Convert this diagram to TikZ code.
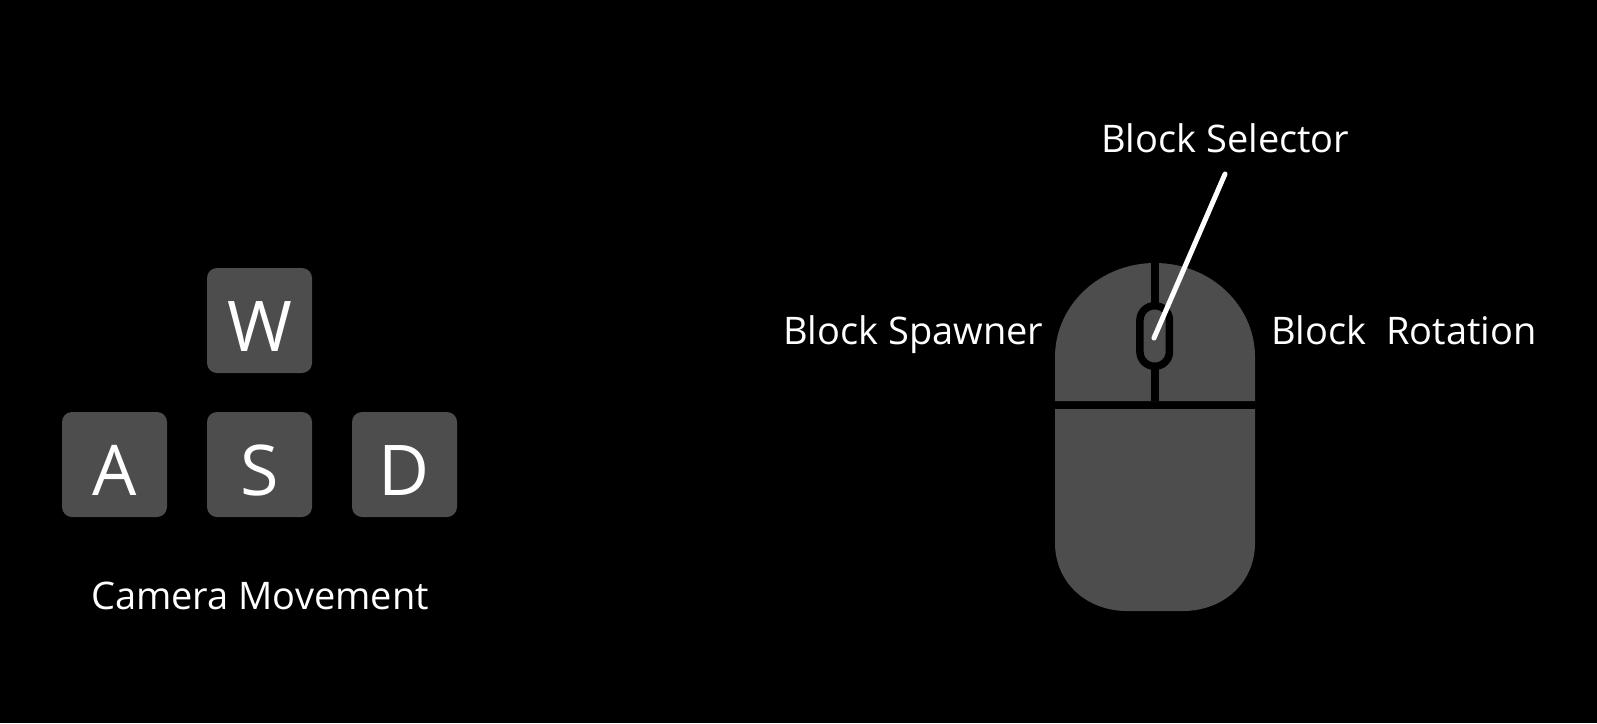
\documentclass[tikz,border=0pt]{standalone}
\usepackage{fontspec}
\setmainfont{Open Sans}
\definecolor{keygrey}{HTML}{4D4D4D}
\tikzset{
  keybox/.style={fill=keygrey,draw=none,rounded corners=10pt,minimum width=105pt,minimum height=105pt,inner sep=0pt,text=white,text height=63pt,text depth=2pt,font=\fontsize{70}{70}\selectfont},
  lab/.style={text=white,inner sep=0pt,anchor=base west,font=\fontsize{38}{38}\selectfont},
  gapline/.style={draw=black,line width=8pt},
  pointer/.style={draw=white,line width=5pt,line cap=round}
}
\begin{document}
\begin{tikzpicture}[x=1pt,y=-1pt]
\fill[black] (0,0) rectangle (1597,723);
\useasboundingbox (0,0) rectangle (1597,723);
% keys
\node[keybox] (w) at (259.5,320.5) {W};
\node[keybox] (a) at (114.5,464.5) {A};
\node[keybox] (s) at (259.5,464.5) {S};
\node[keybox] (d) at (404.5,464.5) {D};
\node[lab] (cam) at (91,609) {Camera Movement};
% mouse
\fill[keygrey] (1055,401) -- (1055,357) .. controls (1055,305) and (1100,263) .. (1155,263)
  .. controls (1210,263) and (1255,305) .. (1255,357) -- (1255,401) -- cycle;
\fill[keygrey] (1055,409) -- (1255,409) -- (1255,543)
  .. controls (1255,583) and (1223,611) .. (1183,611) -- (1127,611)
  .. controls (1087,611) and (1055,583) .. (1055,543) -- cycle;
\coordinate (slottop) at (1154.7,263);
\coordinate (slotbot) at (1154.7,401);
\draw[gapline] (slottop) -- (slotbot);
\node[draw=black,fill=keygrey,line width=7.5pt,rounded corners=14.5pt,minimum width=29.5pt,minimum height=60.5pt,inner sep=0pt,outer sep=0pt] (wheel) at (1154.7,336) {};
% labels
\node[lab] (sel) at (1101,152) {Block Selector};
\node[lab] (spa) at (783,344) {Block Spawner};
\node[lab] (rot) at (1271,344) {Block\ \ Rotation};
% pointer
\coordinate (ptop) at (1225,174);
\coordinate (pbot) at (1154,338);
\draw[pointer] (ptop) -- (pbot);
\end{tikzpicture}
\end{document}
